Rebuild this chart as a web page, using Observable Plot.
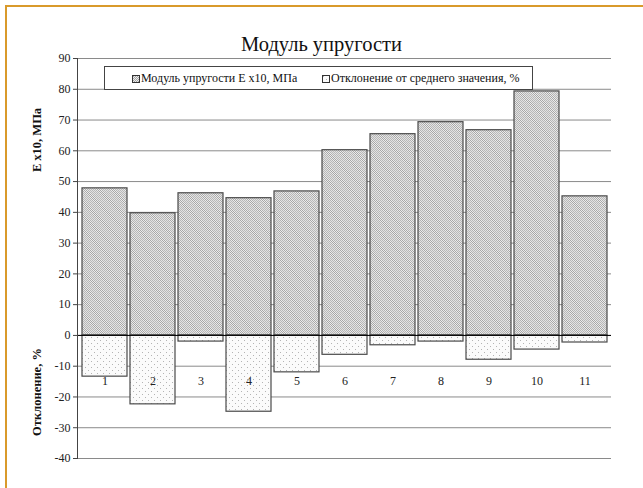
<!DOCTYPE html>
<html>
<head>
<meta charset="utf-8">
<script src="https://cdn.jsdelivr.net/npm/d3@7"></script>
<script src="https://cdn.jsdelivr.net/npm/@observablehq/plot@0.6"></script>
<style>
  body { margin: 0; background: #fff; }
  #wrap { position: relative; width: 643px; height: 488px; overflow: hidden; font-family: "Liberation Serif", "Times New Roman", Tinos, "DejaVu Serif", serif; background:#fff; }
  #border { position: absolute; left: 5px; top: 5px; right: -10px; bottom: -10px; border-left: 2px solid #D99A2B; border-top: 2px solid #D99A2B; }
  #title { position: absolute; left: 0; width: 643px; top: 33px; text-align: center; font-size: 20.5px; color: #111; }
  #legend { position: absolute; left: 104px; top: 66px; width: 427px; height: 22px; border: 1px solid #444; background: #fff; font-size: 12px; color: #111; }
  .li { position: absolute; top: 4px; white-space: nowrap; }
  .li svg { vertical-align: -1px; margin-right: 1px; }
  .ytitle { position: absolute; font-weight: bold; font-size: 12.5px; color: #111; transform: translate(-50%, -50%) rotate(-90deg); white-space: nowrap; }
  #chart { position: absolute; left: 0; top: 0; }
  #chart svg text { font-family: "Liberation Serif", "Times New Roman", Tinos, "DejaVu Serif", serif; }
</style>
</head>
<body>
<div id="wrap">
  <svg width="0" height="0" style="position:absolute">
    <defs>
      <pattern id="pChk" patternUnits="userSpaceOnUse" width="2" height="2">
        <rect width="2" height="2" fill="#ececec"/>
        <rect width="1" height="1" fill="#a6a6a6"/>
        <rect x="1" y="1" width="1" height="1" fill="#a6a6a6"/>
      </pattern>
      <pattern id="pEbar" patternUnits="userSpaceOnUse" width="14" height="14">
        <rect width="14" height="14" fill="url(#pChk)"/>
        <path d="M-4 -4 L18 18 M-4 10 L4 18 M10 -4 L18 4" stroke="#d2d2d2" stroke-width="6" opacity="0.4"/>
      </pattern>
      <pattern id="pD" patternUnits="userSpaceOnUse" width="6" height="6">
        <rect width="6" height="6" fill="#fbfbfb"/>
        <rect x="1" y="1" width="1" height="1" fill="#b4b4b4"/>
        <rect x="4" y="4" width="1" height="1" fill="#b4b4b4"/>
      </pattern>
    </defs>
  </svg>
  <div id="border"></div>
  <div id="chart"></div>
  <div id="title">Модуль упругости</div>
  <div id="legend">
    <span class="li" style="left:27px"><svg width="8" height="8"><rect x="0.5" y="0.5" width="7" height="7" fill="url(#pChk)" stroke="#333"/></svg>Модуль упругости Е x10, МПа</span>
    <span class="li" style="left:217px"><svg width="8" height="8"><rect x="0.5" y="0.5" width="7" height="7" fill="url(#pD)" stroke="#333"/></svg>Отклонение от среднего значения, %</span>
  </div>
  <div class="ytitle" style="left:37px; top:140px">Е x10, МПа</div>
  <div class="ytitle" style="left:37px; top:392px">Отклонение, %</div>
</div>
<script>
const categories = ["1","2","3","4","5","6","7","8","9","10","11"];
const modulus = [47.8, 39.7, 46.2, 44.6, 46.8, 60.2, 65.4, 69.3, 66.7, 79.3, 45.2];
const deviation = [-13.4, -22.4, -2.0, -24.8, -12.0, -6.3, -3.2, -2.0, -7.9, -4.6, -2.3];
const yTicks = [-40,-30,-20,-10,0,10,20,30,40,50,60,70,80,90];

const rows = categories.map((c, i) => ({cat: c, e: modulus[i], d: deviation[i]}));

const chart = Plot.plot({
  width: 643,
  height: 488,
  marginLeft: 77,
  marginRight: 32,
  marginTop: 58,
  marginBottom: 30,
  style: {fontFamily: "'Liberation Serif', 'Times New Roman', serif", fontSize: "12px", color: "#222", background: "transparent"},
  x: {type: "band", domain: categories, paddingInner: 0.07, paddingOuter: 0.03, axis: null},
  y: {domain: [-40, 90], axis: null},
  marks: [
    Plot.ruleY(yTicks, {stroke: "#8a8a8a", strokeWidth: 1}),
    Plot.barY(rows, {x: "cat", y1: 0, y2: "e", fill: "url(#pEbar)", stroke: "#4a4a4a", strokeWidth: 1.2, inset: 0}),
    Plot.barY(rows, {x: "cat", y1: 0, y2: "d", fill: "url(#pD)", stroke: "#4a4a4a", strokeWidth: 1.2, inset: 0}),
    Plot.ruleY([0], {stroke: "#000", strokeWidth: 1}),
    Plot.frame({anchor: "left", stroke: "#444"}),
    Plot.axisY({ticks: yTicks, tickSize: 4, tickPadding: 3, tickFormat: d => String(d), fontSize: 12, stroke: "#444", label: null}),
    Plot.axisX({anchor: "bottom", tickSize: 0, tickPadding: 3, dy: -85, fontSize: 12, label: null})
  ]
});
document.getElementById("chart").appendChild(chart);
</script>
</body>
</html>
